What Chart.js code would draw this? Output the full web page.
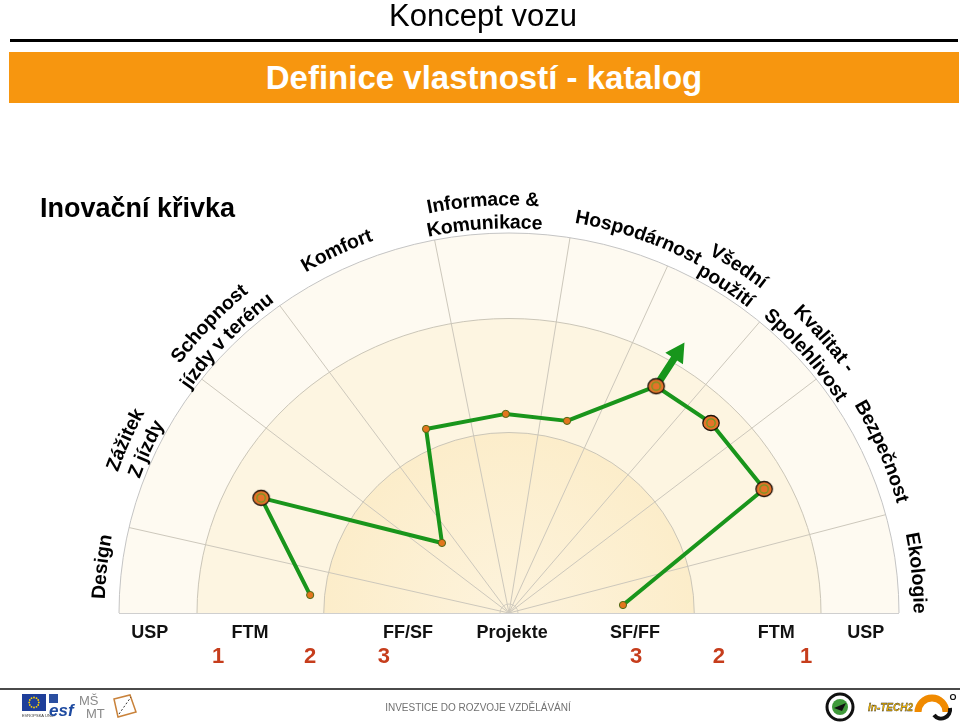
<!DOCTYPE html>
<html>
<head>
<meta charset="utf-8">
<script src="https://cdn.jsdelivr.net/npm/chart.js@4.4.1/dist/chart.umd.min.js"></script>
<style>
html,body{margin:0;padding:0;background:#fff;width:960px;height:723px;overflow:hidden;font-family:"Liberation Sans",Arial,Helvetica,sans-serif;}
#chart{position:absolute;left:0;top:0;}
.abs{position:absolute;}
</style>
</head>
<body>
<canvas id="chart" width="960" height="723"></canvas>
<div class="abs" style="left:0;top:-2px;width:966px;text-align:center;font-size:31px;line-height:36px;color:#000;">Koncept vozu</div>
<div class="abs" style="left:10px;top:39px;width:948px;height:3px;background:#000;"></div>
<div class="abs" style="left:9px;top:52px;width:950px;height:51px;background:#f7960f;color:#fff;font-weight:bold;font-size:33px;line-height:51px;text-align:center;">Definice vlastností - katalog</div>
<div class="abs" style="left:40px;top:193px;font-weight:bold;font-size:27px;line-height:30px;color:#000;">Inovační křivka</div>

<div class="abs" style="left:0;top:688px;width:960px;height:2px;background:#4a4a4a;"></div>
<div class="abs" style="left:0;top:702px;width:956px;text-align:center;font-size:10px;color:#707070;">INVESTICE DO ROZVOJE VZDĚLÁVÁNÍ</div>
<svg class="abs" style="left:0;top:690px;" width="960" height="33" viewBox="0 690 960 33">
  <rect x="22" y="694" width="24" height="17" fill="#1f3f99"/>
  <g fill="#ffd200">
    <circle cx="34" cy="697.5" r="0.9"/><circle cx="36.5" cy="698.2" r="0.9"/><circle cx="38.2" cy="700" r="0.9"/>
    <circle cx="38.8" cy="702.5" r="0.9"/><circle cx="38.2" cy="705" r="0.9"/><circle cx="36.5" cy="706.8" r="0.9"/>
    <circle cx="34" cy="707.5" r="0.9"/><circle cx="31.5" cy="706.8" r="0.9"/><circle cx="29.8" cy="705" r="0.9"/>
    <circle cx="29.2" cy="702.5" r="0.9"/><circle cx="29.8" cy="700" r="0.9"/><circle cx="31.5" cy="698.2" r="0.9"/>
  </g>
  <text x="22" y="717" font-size="4" fill="#333" font-family="Liberation Sans">EVROPSKÁ UNIE</text>
  <rect x="49" y="694" width="9" height="9" fill="#2b4fa0"/>
  <text x="49" y="716" font-size="17" font-weight="bold" font-style="italic" fill="#1e4aa0" font-family="Liberation Sans">esf</text>
  <text x="79" y="705" font-size="13" fill="#8a8a8a" font-family="Liberation Sans">MŠ</text>
  <text x="86" y="718" font-size="13" fill="#8a8a8a" font-family="Liberation Sans">MT</text>
  <path d="M114 699 L130 695 L136 712 L118 717 Z" fill="none" stroke="#c9823a" stroke-width="1.5"/>
  <path d="M119 714 L131 697" stroke="#333" stroke-width="1" stroke-dasharray="2 2"/>
  <circle cx="840" cy="707" r="13" fill="#fff" stroke="#111" stroke-width="3"/>
  <circle cx="840" cy="707" r="8" fill="#3f9a3a"/>
  <path d="M834 708 L846 703 L842 711 Z" fill="#111"/>
  <text x="868" y="711" font-size="10" font-weight="bold" font-style="italic" fill="#f0b400" stroke="#222" stroke-width="0.3" font-family="Liberation Sans">In-TECH2</text>
  <path d="M918 712 A 14 14 0 0 1 946 712" fill="none" stroke="#f08a00" stroke-width="7"/>
  <path d="M934 715 A 9 9 0 0 0 950 708" fill="none" stroke="#111" stroke-width="4"/>
  <circle cx="953" cy="697" r="2.5" fill="none" stroke="#111" stroke-width="1.2"/>
</svg>

<script>
// ---------- data ----------
const categories = [
  ['Design'],
  ['Zážitek', 'Z jízdy'],
  ['Schopnost', 'jízdy v terénu'],
  ['Komfort'],
  ['Informace &', 'Komunikace'],
  ['Hospodárnost'],
  ['Všední', 'použití'],
  ['Kvalitat -', 'Spolehlivost'],
  ['Bezpečnost'],
  ['Ekologie']
];
// angular position (degrees, 180 = left, 0 = right) of each category's point
const pointAngles = [174.7, 154.5, 133, 113.7, 90.9, 73.6, 57.7, 44, 26.5, 4.1];
// radial value (0 = Projekte centre, 1 = outer USP edge)
const pointValues = [0.512, 0.704, 0.252, 0.529, 0.524, 0.527, 0.706, 0.720, 0.731, 0.293];
const keyPoints = [false, true, false, false, false, false, true, true, true, false];
const trendFromIndex = 6;
const trendTarget = 0.842;
// sector boundaries (degrees)
const sectorBounds = [167, 142, 126, 101, 81, 66, 50, 38, 15];
// bottom axis labels
const bandLabels = ['USP', 'FTM', 'FF/SF', 'Projekte', 'SF/FF', 'FTM', 'USP'];
const bandLabelValues = [-0.921, -0.664, -0.259, 0.008, 0.323, 0.685, 0.915];
const levelLabels = ['1', '2', '3', '3', '2', '1'];
const levelLabelValues = [-0.746, -0.510, -0.321, 0.326, 0.538, 0.762];

// ---------- layout (not data) ----------
const categoryLabelAngles = [173.5, 155.7, 136, 115.4, 93.6, 71, 56.5, 41, 23.4, 5.6];
const ringRadiiX = [1, 0.80, 0.475];
const ringRadiiY = [1, 0.775, 0.475];

const rad = d => d * Math.PI / 180;
const points = pointAngles.map((a, i) => ({
  x: pointValues[i] * Math.cos(rad(a)),
  y: pointValues[i] * Math.sin(rad(a))
}));

function bigMarker() {
  const c = document.createElement('canvas');
  c.width = 20; c.height = 18;
  const g = c.getContext('2d');
  g.beginPath(); g.ellipse(10, 9, 8.2, 7.5, 0, 0, 2 * Math.PI);
  g.fillStyle = '#e5732a'; g.fill();
  g.lineWidth = 1.3; g.strokeStyle = '#1d130b'; g.stroke();
  g.beginPath(); g.arc(10, 9, 4.2, 0, 2 * Math.PI);
  g.strokeStyle = '#6f9a22'; g.lineWidth = 1.3; g.stroke();
  return c;
}
const bigImg = bigMarker();

function arcText(ctx, text, cx, cy, R, angDeg) {
  const a0 = rad(angDeg);
  const total = ctx.measureText(text).width;
  let acc = 0;
  for (const ch of text) {
    const w = ctx.measureText(ch).width;
    const a = a0 + (total / 2 - acc - w / 2) / R;
    const x = cx + R * Math.cos(a), y = cy - R * Math.sin(a);
    ctx.save();
    ctx.translate(x, y);
    ctx.rotate(Math.PI / 2 - a);
    ctx.fillText(ch, 0, 0);
    ctx.restore();
    acc += w;
  }
}

const polarPlugin = {
  id: 'polarBackdrop',
  beforeDatasetsDraw(chart) {
    const { ctx, scales: { x, y } } = chart;
    const cx = x.getPixelForValue(0), cy = y.getPixelForValue(0);
    ctx.save();
    // bands
    for (let i = 0; i < ringRadiiX.length; i++) {
      const rx = x.getPixelForValue(ringRadiiX[i]) - cx;
      const ry = cy - y.getPixelForValue(ringRadiiY[i]);
      ctx.beginPath();
      ctx.moveTo(cx - rx, cy);
      ctx.ellipse(cx, cy, rx, ry, 0, Math.PI, 2 * Math.PI);
      ctx.closePath();
      if (i === 0) ctx.fillStyle = '#fefaf1';
      else if (i === 1) ctx.fillStyle = '#fdf5e1';
      else {
        const g = ctx.createRadialGradient(cx, cy, 0, cx, cy, rx);
        g.addColorStop(0, '#fdf3dc');
        g.addColorStop(1, '#fcedca');
        ctx.fillStyle = g;
      }
      ctx.fill();
    }
    // spokes
    ctx.strokeStyle = '#cdc8bc';
    ctx.lineWidth = 1;
    sectorBounds.forEach(a => {
      ctx.beginPath();
      ctx.moveTo(cx, cy);
      ctx.lineTo(x.getPixelForValue(Math.cos(rad(a))), y.getPixelForValue(Math.sin(rad(a))));
      ctx.stroke();
    });
    // ring outlines
    for (let i = 0; i < ringRadiiX.length; i++) {
      const rx = x.getPixelForValue(ringRadiiX[i]) - cx;
      const ry = cy - y.getPixelForValue(ringRadiiY[i]);
      ctx.beginPath();
      ctx.ellipse(cx, cy, rx, ry, 0, Math.PI, 2 * Math.PI);
      ctx.strokeStyle = i === 0 ? '#c4c4c4' : '#cbc6b8';
      ctx.stroke();
    }
    // small centre arc
    ctx.beginPath();
    ctx.arc(cx, cy, 9, Math.PI, 2 * Math.PI);
    ctx.strokeStyle = '#d2cdc0';
    ctx.stroke();
    // baseline
    ctx.beginPath();
    ctx.moveTo(x.getPixelForValue(-1), cy + 0.5);
    ctx.lineTo(x.getPixelForValue(1), cy + 0.5);
    ctx.strokeStyle = '#cfcfcf';
    ctx.stroke();
    // trend arrow (radial, from key point outward)
    const a = rad(pointAngles[trendFromIndex]);
    const sx = x.getPixelForValue(pointValues[trendFromIndex] * Math.cos(a));
    const sy = y.getPixelForValue(pointValues[trendFromIndex] * Math.sin(a));
    const tx = x.getPixelForValue(trendTarget * Math.cos(a));
    const ty = y.getPixelForValue(trendTarget * Math.sin(a));
    const dx = tx - sx, dy = ty - sy, L = Math.hypot(dx, dy);
    const ux = dx / L, uy = dy / L, nx = -uy, ny = ux;
    const headL = 19, headW = 10.5, shaftW = 3.6;
    const bx = tx - ux * headL, by = ty - uy * headL;
    ctx.beginPath();
    ctx.moveTo(sx + nx * shaftW, sy + ny * shaftW);
    ctx.lineTo(bx + nx * shaftW, by + ny * shaftW);
    ctx.lineTo(bx + nx * headW, by + ny * headW);
    ctx.lineTo(tx, ty);
    ctx.lineTo(bx - nx * headW, by - ny * headW);
    ctx.lineTo(bx - nx * shaftW, by - ny * shaftW);
    ctx.lineTo(sx - nx * shaftW, sy - ny * shaftW);
    ctx.closePath();
    ctx.fillStyle = '#17961b';
    ctx.fill();
    ctx.restore();
  },
  afterDraw(chart) {
    const { ctx, scales: { x, y } } = chart;
    const cx = x.getPixelForValue(0), cy = y.getPixelForValue(0);
    const RX = x.getPixelForValue(1) - cx, RY = cy - y.getPixelForValue(1);
    ctx.save();
    ctx.fillStyle = '#000';
    ctx.textAlign = 'center';
    ctx.textBaseline = 'middle';
    ctx.font = 'bold 19.5px "Liberation Sans", Arial, sans-serif';
    categories.forEach((lines, i) => {
      const ang = categoryLabelAngles[i];
      const t = rad(ang);
      const rEdge = 1 / Math.sqrt(Math.pow(Math.cos(t) / RX, 2) + Math.pow(Math.sin(t) / RY, 2));
      const offs = lines.length === 1 ? [20] : [33, 10];
      lines.forEach((txt, j) => arcText(ctx, txt, cx, cy, rEdge + offs[j], ang));
    });
    // bottom labels
    ctx.font = 'bold 18px "Liberation Sans", Arial, sans-serif';
    ctx.fillStyle = '#111';
    bandLabels.forEach((t, i) => ctx.fillText(t, x.getPixelForValue(bandLabelValues[i]), cy + 20));
    ctx.font = 'bold 22px "Liberation Sans", Arial, sans-serif';
    ctx.fillStyle = '#c63d1c';
    levelLabels.forEach((t, i) => ctx.fillText(t, x.getPixelForValue(levelLabelValues[i]), cy + 44));
    ctx.restore();
  }
};

new Chart(document.getElementById('chart'), {
  type: 'scatter',
  data: {
    datasets: [{
      label: 'Inovační křivka',
      data: points,
      showLine: true,
      borderColor: '#19951b',
      borderWidth: 4,
      borderJoinStyle: 'round',
      tension: 0,
      clip: false,
      pointStyle: keyPoints.map(k => k ? bigImg : 'circle'),
      pointRadius: keyPoints.map(k => k ? 8 : 3.6),
      pointBackgroundColor: '#e2761d',
      pointBorderColor: '#4d6a16',
      pointBorderWidth: 1
    }]
  },
  options: {
    responsive: false,
    animation: false,
    events: [],
    layout: { padding: { left: 119, right: 61, top: 233, bottom: 110 } },
    scales: {
      x: { type: 'linear', min: -1, max: 1, display: false },
      y: { type: 'linear', min: 0, max: 1, display: false }
    },
    plugins: { legend: { display: false }, tooltip: { enabled: false }, title: { display: false } }
  },
  plugins: [polarPlugin]
});
</script>
</body>
</html>
